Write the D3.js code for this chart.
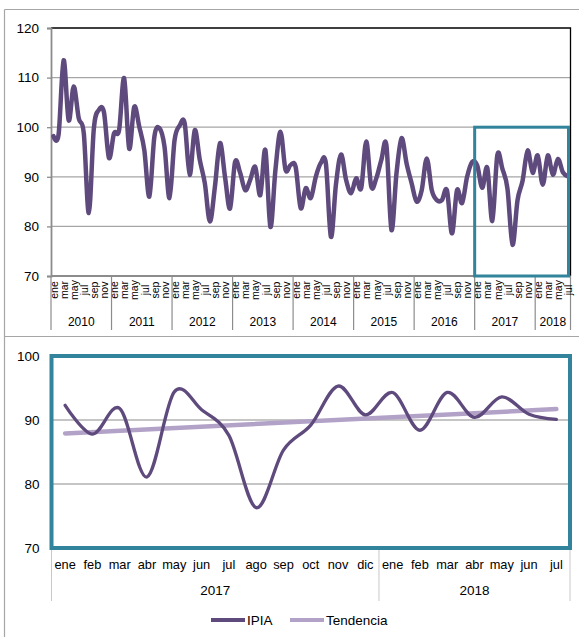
<!DOCTYPE html>
<html><head><meta charset="utf-8">
<script src="https://cdn.jsdelivr.net/npm/d3@7"></script>
<style>
html,body{margin:0;padding:0;background:#fff;}
svg{display:block;font-family:Arial,"Liberation Sans",sans-serif;}
</style></head>
<body>
<svg id="c" width="579" height="637"></svg>
<script>
// ---------- data ----------
const monthsAll = ["ene","feb","mar","abr","may","jun","jul","ago","sep","oct","nov","dic"];
const yearsTop = ["2010","2011","2012","2013","2014","2015","2016","2017","2018"];
const ipia = [
  98.2, 98.5, 113.5, 101.4, 108.2, 101.8, 98.8, 82.7, 99.8, 103.5, 103.0, 93.8,   // 2010
  98.8, 99.4, 109.9, 95.7, 104.1, 100.1, 95.4, 86.0, 98.1, 99.8, 96.1, 85.7,      // 2011
  97.4, 100.3, 100.8, 90.4, 99.4, 93.4, 88.7, 81.0, 88.0, 96.8, 90.0, 83.6,       // 2012
  93.0, 90.8, 87.3, 89.4, 92.0, 86.3, 95.4, 79.9, 91.4, 99.1, 91.4, 92.4,         // 2013
  92.0, 83.7, 87.7, 85.7, 90.0, 92.8, 92.7, 77.9, 88.5, 94.5, 89.4, 86.7,         // 2014
  89.7, 87.7, 97.1, 88.0, 89.7, 93.4, 96.4, 79.3, 90.7, 97.8, 92.7, 88.7,         // 2015
  85.0, 87.3, 93.7, 87.3, 85.3, 85.3, 87.3, 78.6, 87.3, 84.7, 90.0, 93.0,         // 2016
  92.3, 87.8, 91.8, 81.1, 94.4, 91.6, 87.6, 76.3, 85.3, 89.2, 95.3, 90.8,         // 2017
  94.3, 88.4, 94.3, 90.4, 93.6, 90.9, 90.1                                        // 2018
];
const topTicks = [70, 80, 90, 100, 110, 120];
const bottomTicks = [70, 80, 90, 100];
const zoomStart = 84;              // ene 2017
const yearsBottom = ["2017", "2018"];
const trendEnds = [87.9, 91.7];    // tendencia at ene 2017 and jul 2018
const legendNames = ["IPIA", "Tendencia"];

// ---------- styles ----------
const cIPIA = "#5f4a7d", cTrend = "#b3a2c7", cTeal = "#31849b";
const cGrid = "#a6a6a6", cAxis = "#8c8c8c", cFrame = "#a6a6a6";

const svg = d3.select("#c");

// outer frames
svg.append("line").attr("x1",4.5).attr("x2",4.5).attr("y1",9.5).attr("y2",637).attr("stroke",cFrame).attr("stroke-width",1.2);
svg.append("line").attr("x1",4.5).attr("x2",579).attr("y1",9.5).attr("y2",9.5).attr("stroke",cFrame).attr("stroke-width",1.2);
svg.append("line").attr("x1",4.5).attr("x2",579).attr("y1",336.5).attr("y2",336.5).attr("stroke",cFrame).attr("stroke-width",1.2);

// ---------- TOP CHART ----------
const n = ipia.length;
const xT = d3.scaleLinear().domain([0, n]).range([51, 570.5]);
const yT = d3.scaleLinear().domain([70, 120]).range([276, 28]);
const gTop = svg.append("g");

gTop.selectAll("line.g").data(topTicks.filter(t => t > 70 && t < 120)).join("line")
  .attr("x1", xT(0)).attr("x2", xT(n)).attr("y1", d => yT(d)).attr("y2", d => yT(d))
  .attr("stroke", cGrid).attr("stroke-width", 1.3);
gTop.append("path").attr("d", `M${xT(0)},${yT(120)}H${xT(n)}V${yT(70)}`).attr("fill","none").attr("stroke","#000").attr("stroke-width",1.3);

const yAxisT = gTop.append("g").attr("transform", `translate(${xT(0)},0)`)
  .call(d3.axisLeft(yT).tickValues(topTicks).tickSize(4).tickPadding(8));
yAxisT.select(".domain").attr("stroke", cAxis).attr("stroke-width", 1.8);
yAxisT.selectAll(".tick line").attr("stroke", cAxis).attr("stroke-width", 1.3);
yAxisT.selectAll(".tick text").attr("font-size", 13.5).attr("fill", "#000").attr("font-family", "Arial, Liberation Sans");

gTop.append("line").attr("x1", xT(0)).attr("x2", xT(n)).attr("y1", yT(70)).attr("y2", yT(70)).attr("stroke", cAxis).attr("stroke-width", 1.8);

const yearBounds = d3.range(0, n + 1, 12).concat(n % 12 ? [n] : []);
gTop.selectAll("line.ys").data(yearBounds).join("line")
  .attr("x1", d => xT(d)).attr("x2", d => xT(d)).attr("y1", yT(70)).attr("y2", 330)
  .attr("stroke", cAxis).attr("stroke-width", 1.2);

const monthIdx = d3.range(0, n).filter(i => i % 2 === 0);
gTop.selectAll("text.m").data(monthIdx).join("text")
  .attr("transform", i => `translate(${xT(i + 0.5) + 0.2},290) rotate(-90)`)
  .attr("text-anchor", "middle").attr("dominant-baseline", "central")
  .attr("font-size", 10.5).attr("fill", "#000")
  .text(i => monthsAll[i % 12]);

gTop.selectAll("text.y").data(yearsTop).join("text")
  .attr("x", (d, k) => (xT(k * 12) + xT(Math.min((k + 1) * 12, n))) / 2)
  .attr("y", 326).attr("text-anchor", "middle").attr("font-size", 12).attr("fill", "#000")
  .text(d => d);

const lineT = d3.line().x((d, i) => xT(i + 0.5)).y(d => yT(d)).curve(d3.curveCardinal.tension(0));
gTop.append("path").datum(ipia).attr("d", lineT).attr("fill", "none")
  .attr("stroke", cIPIA).attr("stroke-width", 4.5).attr("stroke-linejoin", "round").attr("stroke-linecap", "round");

gTop.append("rect").attr("x", xT(zoomStart)).attr("y", yT(100))
  .attr("width", xT(n) - 2 - xT(zoomStart)).attr("height", yT(70) - yT(100))
  .attr("fill", "none").attr("stroke", cTeal).attr("stroke-width", 3);

// ---------- BOTTOM CHART ----------
const sub = ipia.slice(zoomStart);
const m = sub.length;
const xB = d3.scaleLinear().domain([0, m]).range([51.5, 570]);
const yB = d3.scaleLinear().domain([70, 100]).range([548, 356]);
const gBot = svg.append("g");

gBot.selectAll("line.g").data(bottomTicks.filter(t => t > 70 && t < 100)).join("line")
  .attr("x1", xB(0)).attr("x2", xB(m)).attr("y1", d => yB(d)).attr("y2", d => yB(d))
  .attr("stroke", "#8c8c8c").attr("stroke-width", 1.2);

const yAxisB = gBot.append("g").attr("transform", `translate(${xB(0)},0)`)
  .call(d3.axisLeft(yB).tickValues(bottomTicks).tickSize(0).tickPadding(12));
yAxisB.select(".domain").remove();
yAxisB.selectAll(".tick text").attr("font-size", 13.5).attr("fill", "#000").attr("font-family", "Arial, Liberation Sans");

const bBounds = [0, 12, m];
gBot.selectAll("line.ys").data(bBounds).join("line")
  .attr("x1", d => xB(d)).attr("x2", d => xB(d)).attr("y1", yB(70)).attr("y2", 601)
  .attr("stroke", "#c8c8c8").attr("stroke-width", 1);

gBot.selectAll("text.m").data(sub).join("text")
  .attr("x", (d, i) => xB(i + 0.5)).attr("y", 569).attr("text-anchor", "middle")
  .attr("font-size", 12.8).attr("fill", "#000")
  .text((d, i) => monthsAll[(zoomStart + i) % 12]);

gBot.selectAll("text.y").data(yearsBottom).join("text")
  .attr("x", (d, k) => (xB(bBounds[k]) + xB(bBounds[k + 1])) / 2)
  .attr("y", 595).attr("text-anchor", "middle").attr("font-size", 13.5).attr("fill", "#000")
  .text(d => d);

gBot.append("line").attr("x1", xB(0.5)).attr("x2", xB(m - 0.5))
  .attr("y1", yB(trendEnds[0])).attr("y2", yB(trendEnds[1]))
  .attr("stroke", cTrend).attr("stroke-width", 4.5).attr("stroke-linecap", "round");

const lineB = d3.line().x((d, i) => xB(i + 0.5)).y(d => yB(d)).curve(d3.curveCardinal.tension(0));
gBot.append("path").datum(sub).attr("d", lineB).attr("fill", "none")
  .attr("stroke", cIPIA).attr("stroke-width", 3.3).attr("stroke-linejoin", "round").attr("stroke-linecap", "round");

gBot.append("rect").attr("x", xB(0)).attr("y", yB(100)).attr("width", xB(m) - xB(0)).attr("height", yB(70) - yB(100))
  .attr("fill", "none").attr("stroke", cTeal).attr("stroke-width", 4);

// legend
const leg = svg.append("g");
const legItems = [
  {name: legendNames[0], color: cIPIA, x: 211},
  {name: legendNames[1], color: cTrend, x: 290}
];
legItems.forEach(it => {
  leg.append("line").attr("x1", it.x).attr("x2", it.x + 34).attr("y1", 620).attr("y2", 620)
    .attr("stroke", it.color).attr("stroke-width", 4);
  leg.append("text").attr("x", it.x + 36).attr("y", 625).attr("font-size", 13.5).attr("fill", "#000").text(it.name);
});
</script>
</body></html>
